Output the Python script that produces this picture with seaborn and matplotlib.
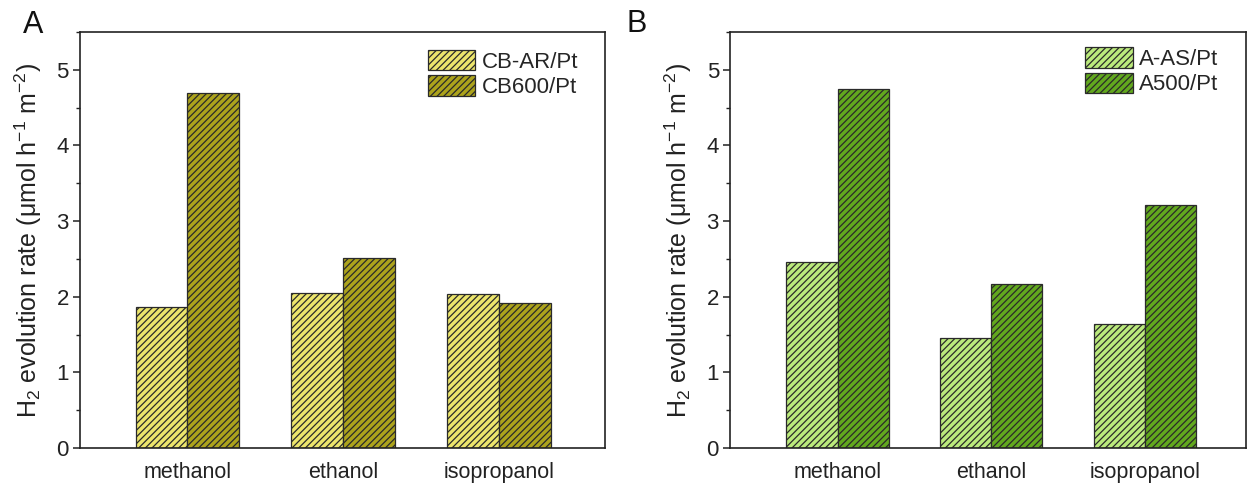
import matplotlib
matplotlib.use("Agg")
import matplotlib.pyplot as plt
from matplotlib.patches import Patch
from matplotlib.ticker import MultipleLocator
import seaborn as sns
import pandas as pd

solvents = ["methanol", "ethanol", "isopropanol"]
series_a = ["CB-AR/Pt", "CB600/Pt"]
cbar_vals = [1.87, 2.05, 2.04]
cb600_vals = [4.70, 2.51, 1.92]
series_b = ["A-AS/Pt", "A500/Pt"]
aas_vals = [2.46, 1.45, 1.64]
a500_vals = [4.75, 2.17, 3.21]

colors_a = ["#ece56c", "#aca31c"]
colors_b = ["#bbea7c", "#62a81e"]
hatch_col = (0.1, 0.12, 0.0, 0.6)

sns.set_theme(style="white")
plt.rcParams["font.family"] = ["Liberation Sans", "DejaVu Sans"]
plt.rcParams["mathtext.default"] = "regular"
plt.rcParams["hatch.linewidth"] = 0.9

fig = plt.figure(figsize=(12.48, 4.87), dpi=100)
axA = fig.add_axes([0.0641, 0.0801, 0.4207, 0.8542])
axB = fig.add_axes([0.585, 0.0801, 0.4135, 0.8542])

def style_patch(p):
    p.set_hatch("/////")
    if hasattr(p, "set_hatchcolor"):
        p.set_hatchcolor(hatch_col)

def panel(ax, names, v1, v2, cols, xlim, letter, letter_xy, leg_anchor):
    df = pd.DataFrame({
        "solvent": solvents * 2,
        "series": [names[0]] * 3 + [names[1]] * 3,
        "rate": list(v1) + list(v2),
    })
    sns.barplot(data=df, x="solvent", y="rate", hue="series", order=solvents,
                hue_order=names, palette=cols, width=0.667, ax=ax,
                edgecolor="#2a2a2a", linewidth=0.9, saturation=1, legend=False)
    for p in ax.patches:
        style_patch(p)
    ax.set_ylim(0, 5.5)
    ax.set_xlim(*xlim)
    ax.yaxis.set_major_locator(MultipleLocator(1))
    ax.yaxis.set_minor_locator(MultipleLocator(0.5))
    ax.tick_params(axis="y", which="major", direction="out", length=5, width=1.1,
                   labelsize=16, left=True, pad=3, colors="#222222")
    ax.tick_params(axis="y", which="minor", direction="out", length=3, width=1.0, left=True,
                   colors="#222222")
    ax.tick_params(axis="x", length=0, pad=10, labelsize=15.5, colors="#222222")
    for s in ax.spines.values():
        s.set_visible(True)
        s.set_color("#222222")
        s.set_linewidth(1.2)
    ax.set_xlabel("")
    ax.set_ylabel("H$_2$ evolution rate (μmol h$^{-1}$ m$^{-2}$)", fontsize=18,
                  color="#222222", labelpad=9)
    handles = []
    for i in range(2):
        h = Patch(facecolor=cols[i], edgecolor="#2a2a2a", linewidth=0.9, label=names[i])
        style_patch(h)
        handles.append(h)
    ax.legend(handles=handles, loc="upper right", frameon=False, fontsize=16,
              handlelength=2.15, handleheight=1.05, labelspacing=0.12,
              handletextpad=0.28, borderaxespad=0, borderpad=0,
              bbox_to_anchor=leg_anchor)
    fig.text(letter_xy[0], letter_xy[1], letter, fontsize=22,
             ha="center", va="center", color="#111111")

panel(axA, series_a, cbar_vals, cb600_vals, colors_a, (-0.69, 2.68), "A",
      (0.0264, 0.949), (0.9486, 0.957))
panel(axB, series_b, aas_vals, a500_vals, colors_b, (-0.70, 2.66), "B",
      (0.5104, 0.951), (0.946, 0.964))

fig.savefig("out.png", dpi=100)
